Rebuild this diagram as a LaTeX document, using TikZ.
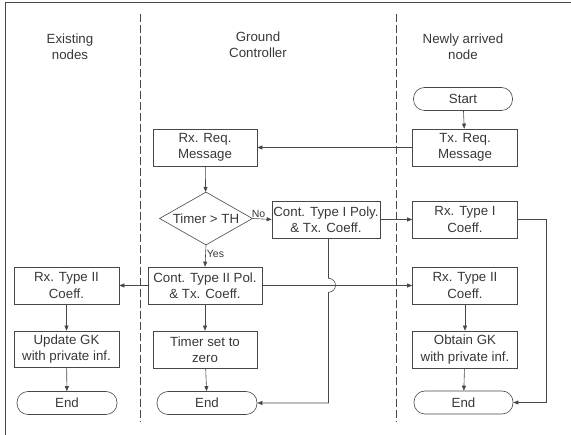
\documentclass[tikz,border=0pt]{standalone}
\usepackage{fontspec}
\setmainfont{Liberation Sans}
\usetikzlibrary{arrows.meta,positioning,calc}
\usetikzlibrary{shapes.geometric}
\definecolor{lngray}{gray}{0.28}
\definecolor{txgray}{gray}{0.22}

\begin{document}
\begin{tikzpicture}[x=1pt,y=-1pt,line width=0.6pt,
	every node/.style={font=\fontsize{13.3}{16.5}\selectfont,text=txgray,align=center},
	proc/.style={draw=lngray,rectangle,minimum width=105pt,minimum height=37pt,inner sep=1pt},
	term/.style={draw=lngray,rectangle,rounded corners=11pt,minimum width=99pt,minimum height=23pt,inner sep=1pt},
	decide/.style={draw=lngray,diamond,aspect=1.75,inner sep=0pt,minimum width=93pt,minimum height=53pt},
	lbl/.style={font=\fontsize{10.5}{12}\selectfont,inner sep=1pt},
	arr/.style={draw=lngray,-{Triangle[length=5pt,width=4pt]}},
	lane/.style={draw=lngray,dash pattern=on 8pt off 3pt}]
	\useasboundingbox (0,0) rectangle (571,435);
	% frame and lanes
	\draw[lngray,line width=0.9pt] (571,2.5) -- (5,2.5) -- (5,435);
	\draw[lane] (140,14) -- (140,422);
	\draw[lane] (396,14) -- (396,422);
	% lane headers
	\node (hdrA) at (70,47) {Existing\\nodes};
	\node (hdrB) at (258,45) {Ground\\Controller};
	\node (hdrC) at (463,47) {Newly arrived\\node};
	% newly arrived node
	\node[term] (start) at (463,99) {Start};
	\node[proc] (txreq) at (465,147.5) {Tx. Req.\\Message};
	\node[proc] (rxI) at (465,219.5) {Rx. Type I\\Coeff.};
	\node[proc] (rxIIr) at (465,285.5) {Rx. Type II\\Coeff.};
	\node[proc] (obtain) at (465,349.5) {Obtain GK\\with private inf.};
	\node[term] (endR) at (463.5,402.5) {End};
	% ground controller
	\node[proc,minimum width=104pt] (rxreq) at (205,147.5) {Rx. Req.\\Message};
	\node[decide] (timer) at (206,218.5) {Timer > TH};
	\node[proc,minimum width=108pt] (contI) at (326,219.5) {Cont. Type I Poly.\\\& Tx. Coeff.};
	\node[proc,minimum width=114pt] (contII) at (205,285.5) {Cont. Type II Pol.\\\& Tx. Coeff.};
	\node[proc,minimum width=104pt] (tzero) at (205,349.5) {Timer set to\\zero};
	\node[term,minimum width=100pt] (endM) at (207,403) {End};
	% existing nodes
	\node[proc] (rxIIl) at (66.5,285.5) {Rx. Type II\\Coeff.};
	\node[proc,minimum height=36pt] (update) at (66.5,349) {Update GK\\with private inf.};
	\node[term,minimum width=100pt] (endL) at (67,403) {End};
	\coordinate (bendR) at (546.5,219.5);

	\draw[arr] (start) -- (txreq);
	\draw[arr] (txreq.west) -- (txreq.west -| rxreq.east);
	\draw[arr] (rxreq) -- (timer);
	\draw[arr] (timer.east) -- node[lbl,above,pos=0.3] (no) {No} (contI.west);
	\draw[arr] (timer.south) -- node[lbl,right,pos=0.4] (yes) {Yes} (contII.north);
	\draw[arr] (contI.east) -- (rxI.west);
	\draw[arr] (rxI.east) -- (bendR) |- (endR.east);
	\draw[arr] (contII.west) -- (rxIIl.east);
	\draw[arr] (contII.east) -- (rxIIr.west);
	\draw[arr] ([xshift=2.5pt]contI.south) -- ++(0,40) arc[start angle=90,end angle=-90,radius=7pt] |- (endM.east);
	\draw[arr] (rxIIl) -- (update);
	\draw[arr] (update) -- (endL);
	\draw[arr] (contII) -- (tzero);
	\draw[arr] (tzero) -- (endM);
	\draw[arr] (rxIIr) -- (obtain);
	\draw[arr] (obtain) -- (endR);
\end{tikzpicture}
\end{document}
